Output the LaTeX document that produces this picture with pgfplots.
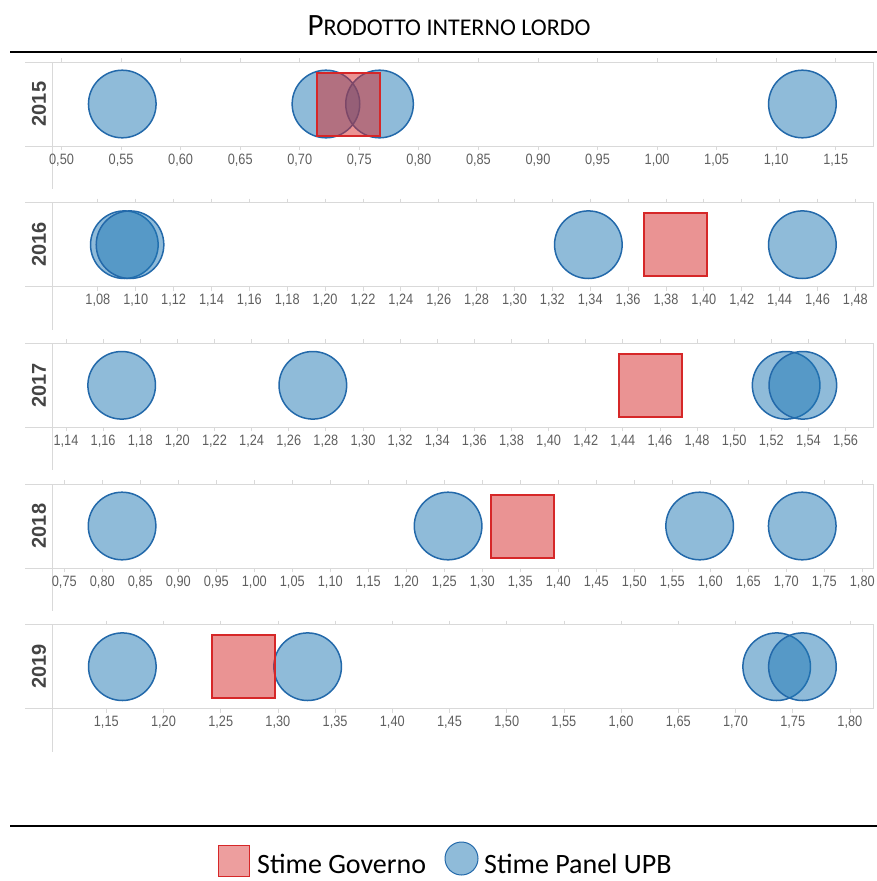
\documentclass[border=0pt]{standalone}
\usepackage{pgfplots}
\pgfplotsset{compat=1.18}
\usepackage{fontspec}
\setmainfont{Liberation Sans}
\newfontfamily\ticksfont[FakeStretch=0.85]{Liberation Sans}
\newfontfamily\calfont{Carlito}

\definecolor{upbblue}{RGB}{31,119,180}
\definecolor{upbedge}{RGB}{35,105,170}
\definecolor{govred}{RGB}{214,39,40}
\definecolor{framegray}{RGB}{217,217,217}
\definecolor{ticktext}{RGB}{95,95,95}
\definecolor{yeartext}{RGB}{68,68,68}

\pgfplotsset{
  panel/.style={
    scale only axis, width=821pt, height=84pt, anchor=south west,
    ymin=0, ymax=1, ytick=\empty, clip=false,
    axis line style={draw=none},
    tick align=outside, major tick length=4pt,
    xtick style={draw=framegray, line width=0.8pt},
    xticklabel style={font=\ticksfont\fontsize{15}{15}\selectfont, text=ticktext, inner sep=2pt, yshift=-1.5pt},
    /pgf/number format/use comma,
    /pgf/number format/fixed,
    /pgf/number format/fixed zerofill,
    /pgf/number format/precision=2,
    /pgf/number format/assume math mode=true,
  },
  upb/.style={only marks, mark=*, mark size=33.8pt,
    mark options={fill=upbblue, fill opacity=0.5, draw=upbedge, line width=1.5pt}},
  gov/.style={only marks, mark=square*, mark size=31.5pt,
    mark options={fill=govred, fill opacity=0.5, draw=govred, line width=2pt}},
}

\begin{document}
\begin{tikzpicture}[x=1pt, y=-1pt]
\useasboundingbox (0,0) rectangle (877,881);

% title and rules
\node[font=\calfont\fontsize{31}{31}\selectfont, inner sep=0, anchor=base] at (449,35)
  {P{\fontsize{24}{24}\selectfont RODOTTO INTERNO LORDO}};
\draw[line width=2.5pt] (10,52) -- (877,52);
\draw[line width=2.5pt] (10,826) -- (877,826);

% panel frames and year labels
\foreach \T/\yr in {62/2015, 202.7/2016, 343.3/2017, 484/2018, 624.7/2019} {
  \draw[framegray, line width=1pt] (25,\T) -- (873,\T) -- (873,\T+84) -- (25,\T+84);
  \draw[framegray, line width=1pt] (52,\T) -- (52,\T+127);
  \node[rotate=90, font=\bfseries\fontsize{20}{20}\selectfont, text=yeartext, inner sep=0]
    at (39,\T+42) {\yr};
}

% 2015
\begin{axis}[panel, at={(52pt,-146pt)}, xmin=0.4920, xmax=1.1813,
  xtick={0.50,0.55,0.60,0.65,0.70,0.75,0.80,0.85,0.90,0.95,1.00,1.05,1.10,1.15}]
  \addplot[upb] coordinates {(0.551,0.5) (0.722,0.5) (0.767,0.5) (1.122,0.5)};
  \addplot[gov] coordinates {(0.741,0.5)};
\end{axis}

% 2016
\begin{axis}[panel, at={(52pt,-286.7pt)}, xmin=1.0558, xmax=1.4893,
  xtick={1.08,1.10,1.12,1.14,1.16,1.18,1.20,1.22,1.24,1.26,1.28,1.30,1.32,1.34,1.36,1.38,1.40,1.42,1.44,1.46,1.48}]
  \addplot[upb] coordinates {(1.094,0.5) (1.097,0.5) (1.339,0.5) (1.452,0.5)};
  \addplot[gov] coordinates {(1.385,0.5)};
\end{axis}

% 2017
\begin{axis}[panel, at={(52pt,-427.3pt)}, xmin=1.13246, xmax=1.5748,
  xtick={1.14,1.16,1.18,1.20,1.22,1.24,1.26,1.28,1.30,1.32,1.34,1.36,1.38,1.40,1.42,1.44,1.46,1.48,1.50,1.52,1.54,1.56}]
  \addplot[upb] coordinates {(1.170,0.5) (1.273,0.5) (1.528,0.5) (1.537,0.5)};
  \addplot[gov] coordinates {(1.455,0.5)};
\end{axis}

% 2018
\begin{axis}[panel, at={(52pt,-568pt)}, xmin=0.7338, xmax=1.8141,
  xtick={0.75,0.80,0.85,0.90,0.95,1.00,1.05,1.10,1.15,1.20,1.25,1.30,1.35,1.40,1.45,1.50,1.55,1.60,1.65,1.70,1.75,1.80}]
  \addplot[upb] coordinates {(0.826,0.5) (1.255,0.5) (1.586,0.5) (1.721,0.5)};
  \addplot[gov] coordinates {(1.353,0.5)};
\end{axis}

% 2019
\begin{axis}[panel, at={(52pt,-708.7pt)}, xmin=1.10253, xmax=1.8202,
  xtick={1.15,1.20,1.25,1.30,1.35,1.40,1.45,1.50,1.55,1.60,1.65,1.70,1.75,1.80}]
  \addplot[upb] coordinates {(1.164,0.5) (1.326,0.5) (1.736,0.5) (1.7585,0.5)};
  \addplot[gov] coordinates {(1.2695,0.5)};
\end{axis}

% legend
\draw[draw=govred, line width=1pt, fill=govred, fill opacity=0.45] (218,845) rectangle (249,876);
\node[font=\calfont\fontsize{28}{28}\selectfont, inner sep=0, anchor=base west] at (257,873) {Stime Governo};
\draw[draw=upbedge, line width=1pt, fill=upbblue, fill opacity=0.5] (461.5,858.5) circle (16.5);
\node[font=\calfont\fontsize{28}{28}\selectfont, inner sep=0, anchor=base west] at (484,873) {Stime Panel UPB};
\end{tikzpicture}
\end{document}
